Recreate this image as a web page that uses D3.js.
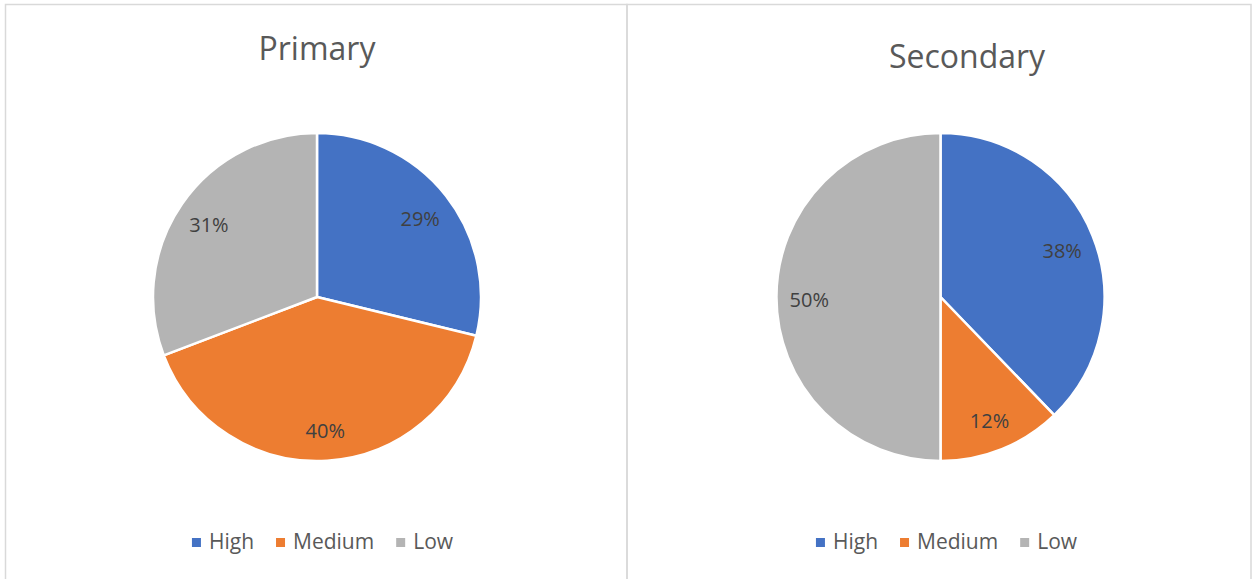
<!DOCTYPE html>
<html>
<head>
<meta charset="utf-8">
<script src="https://cdn.jsdelivr.net/npm/d3@7"></script>
<style>
  body { margin: 0; background: #fff; }
  svg { display: block; font-family: "Open Sans", sans-serif; }
</style>
</head>
<body>
<svg id="chart" width="1253" height="579"></svg>
<script>
// data
var categories = ["High", "Medium", "Low"]
var colors = ["#4472C4", "#ED7D31", "#B4B4B4"]
var primaryValues = [28.8, 40.4, 30.8]
var secondaryValues = [37.8, 12.2, 50.0]
var titles = ["Primary", "Secondary"]

var svg = d3.select("#chart")

// panel frames (Excel chart borders)
var frames = [{ x0: 5.5, x1: 627 }, { x0: 627, x1: 1251 }]
frames.forEach(f => {
    svg.append("path")
        .attr("d", "M" + f.x0 + ",600V4.5H" + f.x1 + "V600")
        .attr("fill", "none")
        .attr("stroke", "#D9D9D9")
        .attr("stroke-width", 1.5)
})

var layout = [
    { cx: 317, cy: 297, titleX: 317, titleY: 60, legendX: 322.5, values: primaryValues },
    { cx: 940.5, cy: 297, titleX: 967, titleY: 68, legendX: 946.5, values: secondaryValues }
]
var radius = 164

var pie = d3.pie().sort(null).value(d => d)
var arc = d3.arc().innerRadius(0).outerRadius(radius)
var labelArc = d3.arc().innerRadius(radius * 0.8).outerRadius(radius * 0.8)
var color = d3.scaleOrdinal().domain(categories).range(colors)

layout.forEach((p, i) => {
    var total = d3.sum(p.values)
    var g = svg.append("g").attr("transform", "translate(" + p.cx + "," + p.cy + ")")

    var slices = pie(p.values)
    g.selectAll("path")
        .data(slices)
        .enter()
        .append("path")
        .attr("d", arc)
        .attr("fill", (d, j) => color(categories[j]))
        .attr("stroke", "#fff")
        .attr("stroke-width", 2.5)
        .attr("stroke-linejoin", "round")

    g.selectAll("text")
        .data(slices)
        .enter()
        .append("text")
        .attr("transform", d => "translate(" + labelArc.centroid(d) + ")")
        .attr("text-anchor", "middle")
        .attr("dy", "0.48em")
        .attr("font-size", 20)
        .attr("fill", "#404040")
        .text(d => Math.round(d.data / total * 100) + "%")

    // title
    svg.append("text")
        .attr("x", p.titleX)
        .attr("y", p.titleY)
        .attr("text-anchor", "middle")
        .attr("font-size", 32)
        .attr("fill", "#595959")
        .text(titles[i])

    // legend
    var lg = svg.append("g")
    var x = 0
    categories.forEach((c, j) => {
        var item = lg.append("g").attr("transform", "translate(" + x + ",0)")
        item.append("rect")
            .attr("x", 0).attr("y", -11)
            .attr("width", 9).attr("height", 9)
            .attr("fill", color(c))
        var t = item.append("text")
            .attr("x", 17)
            .attr("y", 0)
            .attr("font-size", 21)
            .attr("fill", "#595959")
            .text(c)
        x += 17 + t.node().getComputedTextLength() + 22
    })
    var w = x - 22
    lg.attr("transform", "translate(" + (p.legendX - w / 2) + ",549)")
})
</script>
</body>
</html>
